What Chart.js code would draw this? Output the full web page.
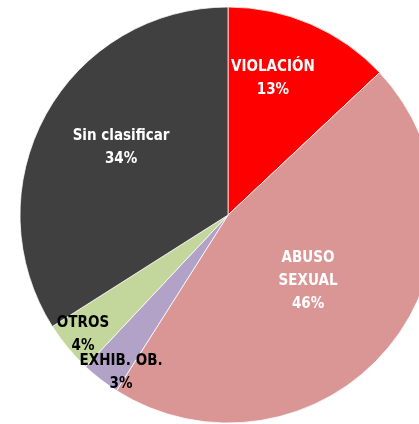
<!DOCTYPE html>
<html>
<head>
<meta charset="utf-8">
<script src="https://cdn.jsdelivr.net/npm/chart.js@4/dist/chart.umd.min.js"></script>
<style>
html,body{margin:0;padding:0;background:#fff;overflow:hidden;width:419px;height:424px;}
#wrap{position:absolute;left:0;top:0;width:456px;height:430px;}
</style>
</head>
<body>
<div id="wrap"><canvas id="c" width="456" height="430"></canvas></div>
<script>
const categories = ["VIOLACIÓN", "ABUSO SEXUAL", "EXHIB. OB.", "OTROS", "Sin clasificar"];
const values = [13, 46, 3, 4, 34];
const percentLabels = ["13%", "46%", "3%", "4%", "34%"];
const colors = ["#FF0000", "#D99694", "#B3A2C7", "#C3D69B", "#404040"];

const labelStyle = {
  lines: [["VIOLACIÓN"], ["ABUSO", "SEXUAL"], ["EXHIB. OB."], ["OTROS"], ["Sin clasificar"]],
  offsets: [[0.216, -0.659], [0.385, 0.317], [-0.514, 0.755], [-0.697, 0.572], [-0.514, -0.327]],
  textColors: ["#FFFFFF", "#FFFFFF", "#000000", "#000000", "#FFFFFF"],
  font: "bold 16.5px 'Liberation Sans Narrow', 'Arial Narrow', 'DejaVu Sans Condensed', sans-serif",
  xScale: 0.91,
  lineHeight: 23
};

const sliceLabels = {
  id: 'sliceLabels',
  afterDatasetsDraw(chart) {
    const ctx = chart.ctx;
    const meta = chart.getDatasetMeta(0);
    meta.data.forEach((arc, i) => {
      const p = arc.getProps(['x', 'y', 'outerRadius'], true);
      const cx = p.x + labelStyle.offsets[i][0] * p.outerRadius;
      const cy = p.y + labelStyle.offsets[i][1] * p.outerRadius;
      const lines = labelStyle.lines[i].concat([percentLabels[i]]);
      const h = labelStyle.lineHeight;
      const top = cy - (lines.length - 1) * h / 2;
      lines.forEach((t, k) => {
        ctx.save();
        ctx.font = labelStyle.font;
        ctx.textAlign = 'center';
        ctx.textBaseline = 'middle';
        ctx.fillStyle = labelStyle.textColors[i];
        ctx.translate(cx, top + k * h);
        ctx.scale(labelStyle.xScale, 1);
        ctx.fillText(t, 0, 0);
        ctx.restore();
      });
    });
  }
};

new Chart(document.getElementById('c'), {
  type: 'pie',
  data: {
    labels: categories,
    datasets: [{
      data: values,
      backgroundColor: colors,
      borderColor: '#FFFFFF',
      borderWidth: 0.75
    }]
  },
  options: {
    responsive: false,
    animation: false,
    radius: 208,
    layout: { padding: 0 },
    plugins: {
      legend: { display: false },
      tooltip: { enabled: false }
    }
  },
  plugins: [sliceLabels]
});
</script>
</body>
</html>
